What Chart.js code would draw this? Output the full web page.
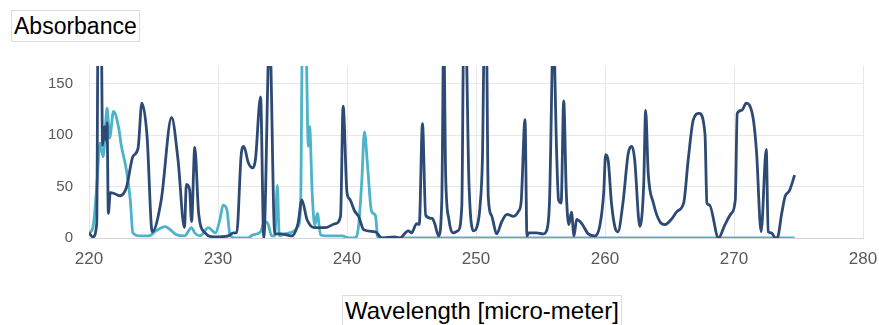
<!DOCTYPE html>
<html lang="en">
<head>
    <meta charset="UTF-8">
    <title>Absorbance</title>
    <script src="https://cdn.jsdelivr.net/npm/chart.js"></script>
    <style>
        body {
            margin: 0;
            background-color: #ffffff;
        }
        .wrap {
            position: relative;
            width: 879px;
            height: 325px;
            overflow: hidden;
        }
        .title-box {
            position: absolute;
            border: 1px solid #dcdcdc;
            background: #ffffff;
            font-family: "Liberation Sans", Arial, sans-serif;
            font-size: 23px;
            color: #000000;
            line-height: 30px;
            padding: 0 2px;
        }
        #yTitle {
            left: 11px;
            top: 10px;
        }
        #xTitle {
            left: 342px;
            top: 295px;
            font-size: 24px;
        }
    </style>
</head>
<body>
    <div class="wrap">
        <canvas id="myChart" width="879" height="325"></canvas>
        <div class="title-box" id="yTitle">Absorbance</div>
        <div class="title-box" id="xTitle">Wavelength [micro-meter]</div>
    </div>

    <script>
        // dark series (wavelength / absorbance)
        const darkX = [220.0, 220.3, 220.6, 220.7, 220.95, 221.05, 221.2, 221.3, 221.4, 221.5, 221.65, 222.0, 222.4, 222.9,
            223.4, 223.8, 224.1, 224.5, 224.9, 225.6, 226.4, 226.9, 227.4, 227.55, 227.8, 227.95, 228.2, 228.5, 229.0,
            229.7, 230.8, 231.2, 231.45, 231.8, 232.0, 232.35, 232.7, 232.9, 233.3, 233.55, 234.0, 234.4, 234.9, 235.7,
            236.2, 236.5, 236.9, 237.5, 238.3, 239.1, 239.5, 239.7, 240.0, 240.2, 240.6, 240.9, 241.3, 242.2, 242.7,
            243.7, 244.1, 244.75, 245.0, 245.4, 245.6, 245.85, 246.1, 246.6, 246.8, 247.1, 247.35, 247.5, 247.65, 247.9,
            248.2, 248.6, 248.9, 249.05, 249.2, 249.45, 249.8, 250.1, 250.3, 250.5, 250.65, 250.8, 250.95, 251.2, 251.6,
            252.0, 252.4, 252.9, 253.3, 253.5, 253.8, 253.95, 254.1, 254.7, 255.2, 255.5, 255.7, 256.0, 256.25, 256.4,
            256.6, 256.8, 257.0, 257.2, 257.4, 257.6, 257.8, 258.2, 258.7, 259.2, 259.6, 259.9, 260.05, 260.25, 260.5,
            260.8, 261.0, 261.4, 261.8, 262.1, 262.3, 262.7, 263.0, 263.15, 263.35, 263.75, 264.3, 264.65, 265.2, 265.6,
            266.1, 266.45, 266.85, 267.3, 267.75, 267.9, 268.1, 268.8, 269.3, 269.8, 270.1, 270.25, 270.6, 270.95, 271.2,
            271.5, 271.75, 272.1, 272.5, 272.65, 272.9, 273.2, 273.35, 273.7, 273.95, 274.3, 274.7];
        const darkY = [5, 1, 14, 200, 200, 90, 108, 95, 112, 24, 44, 43, 41, 49,
            79, 87, 131, 99, 6, 37, 117, 76, 10, 52, 47, 16, 88, 24, 5,
            1, 2, 5, 5, 81, 89, 73, 68, 76, 137, 0, 200, 4, 4, 2,
            14, 37, 18, 10, 10, 14, 21, 128, 44, 38, 26, 21, 8, 6, 0,
            1, 0, 7, 5, 14, 13, 111, 22, 19, 14, 2, 37, 200, 60, 18,
            5, 7, 31, 200, 200, 55, 7, 12, 29, 78, 200, 200, 40, 22, 4,
            16, 23, 21, 26, 35, 115, 2, 5, 5, 4, 8, 36, 200, 83, 37,
            34, 133, 44, 13, 25, 2, 18, 14, 4, 2, 12, 44, 81, 75, 34,
            9, 6, 35, 82, 89, 76, 11, 52, 124, 63, 34, 15, 13, 19, 26,
            34, 76, 115, 121, 101, 34, 32, 0, 13, 24, 37, 121, 124, 131, 129,
            115, 83, 6, 86, 6, 5, 0, 0, 24, 40, 46, 61];

        // light series
        const tealX = [220.0, 220.3, 220.6, 220.85, 221.1, 221.4, 221.6, 221.9, 222.3, 222.5, 222.9, 223.2, 223.4, 224.0,
            224.6, 225.2, 225.9, 226.3, 226.8, 227.4, 227.95, 228.2, 228.6, 229.25, 229.8, 230.15, 230.4, 230.7, 230.9,
            231.3, 232.3, 232.7, 233.3, 233.6, 233.9, 234.15, 234.4, 234.6, 234.75, 235.2, 235.8, 236.2, 236.4, 236.55,
            236.8, 237.0, 237.1, 237.3, 237.5, 237.7, 237.95, 238.5, 239.6, 240.2, 240.6, 240.9, 241.15, 241.35, 241.6,
            241.9, 242.2, 242.4, 274.7];
        const tealY = [5, 10, 50, 92, 79, 126, 97, 123, 107, 90, 66, 37, 5, 2,
            2, 7, 11, 8, 3, 2, 10, 5, 2, 10, 5, 18, 32, 27, 5,
            0, 0, 3, 6, 16, 13, 2, 2, 51, 2, 4, 6, 11, 28, 200,
            200, 89, 108, 44, 12, 24, 3, 2, 2, 0, 0, 12, 56, 103, 69,
            26, 22, 0, 0];

        const yTicks = [0, 50, 100, 150];

        function toPoints(xs, ys) {
            return xs.map(function (x, i) { return { x: x, y: ys[i] }; });
        }

        const config = {
            type: 'line',
            data: {
                datasets: [{
                    label: 'Sample A',
                    data: toPoints(darkX, darkY),
                    borderColor: '#2d4a74',
                    borderWidth: 2.8,
                    pointRadius: 0,
                    fill: false,
                    cubicInterpolationMode: 'monotone'
                }, {
                    label: 'Sample B',
                    data: toPoints(tealX, tealY),
                    borderColor: '#4cb3c9',
                    borderWidth: 2.8,
                    pointRadius: 0,
                    fill: false,
                    cubicInterpolationMode: 'monotone'
                }]
            },
            options: {
                responsive: false,
                animation: false,
                layout: {
                    padding: { left: 0, right: 16, top: 66, bottom: 0 }
                },
                plugins: {
                    legend: { display: false },
                    tooltip: { enabled: false }
                },
                scales: {
                    x: {
                        type: 'linear',
                        min: 220,
                        max: 280,
                        ticks: {
                            stepSize: 10,
                            padding: 11,
                            color: '#595959',
                            font: { family: 'Liberation Sans', size: 17 }
                        },
                        grid: { color: '#e8e8e8', drawTicks: false },
                        border: { color: '#d4d4d4' },
                        afterFit: function (s) {
                            s.height = 87;
                            // keep the plot right edge where the reference has it
                            s.paddingLeft = 0;
                            s.paddingRight = 0;
                        }
                    },
                    y: {
                        min: 0,
                        max: 167,
                        afterBuildTicks: function (s) {
                            s.ticks = yTicks.map(function (v) { return { value: v }; });
                        },
                        ticks: {
                            padding: 16,
                            color: '#595959',
                            font: { family: 'Liberation Sans', size: 15 }
                        },
                        grid: { color: '#e8e8e8', drawTicks: false },
                        border: { display: false },
                        afterFit: function (s) { s.width = 89; }
                    }
                }
            }
        };

        var myChart = new Chart(document.getElementById('myChart'), config);
    </script>
</body>
</html>
